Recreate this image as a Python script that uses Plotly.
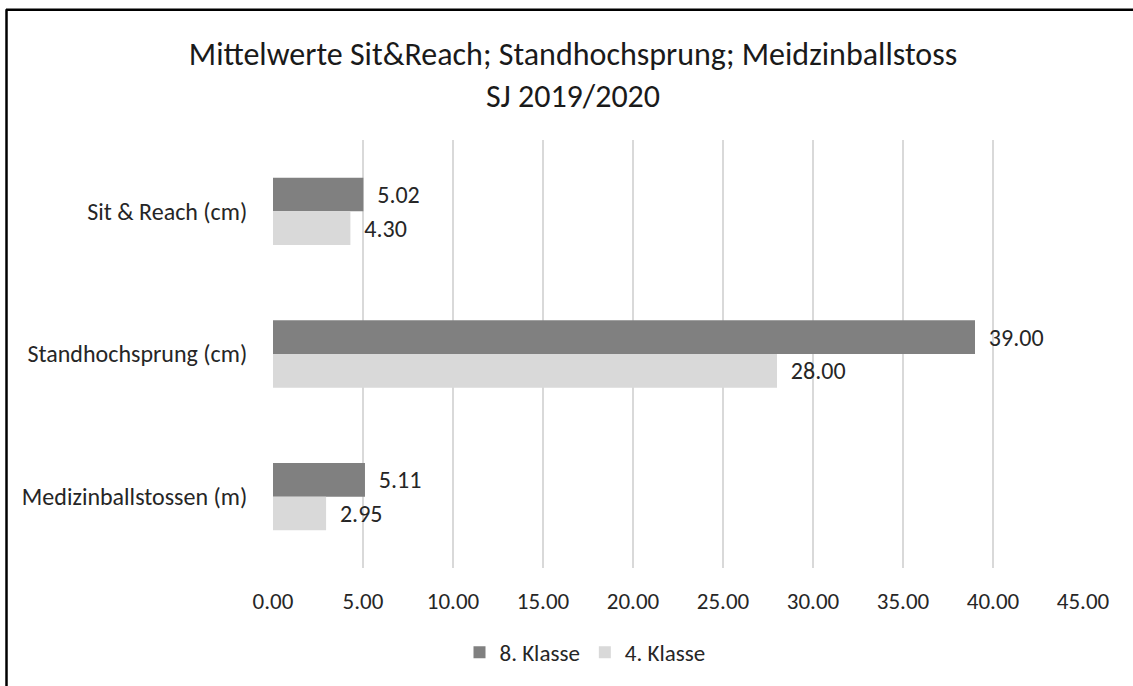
import plotly.graph_objects as go

categories = ["Sit & Reach (cm)", "Standhochsprung (cm)", "Medizinballstossen (m)"]
klasse8 = [5.02, 39.00, 5.11]
klasse4 = [4.30, 28.00, 2.95]
series_names = ["8. Klasse", "4. Klasse"]
tick_vals = [0, 5, 10, 15, 20, 25, 30, 35, 40, 45]
tick_text = ["0.00", "5.00", "10.00", "15.00", "20.00", "25.00", "30.00", "35.00", "40.00", "45.00"]

FONT = "Carlito, Calibri, Open Sans, sans-serif"
TXT = "#262626"

fig = go.Figure()
fig.add_trace(go.Bar(
    y=categories, x=klasse8, name=series_names[0], orientation="h",
    marker=dict(color="#808080", line=dict(width=0)),
    texttemplate="\u00a0\u00a0%{x:.2f}", textposition="outside",
    textfont=dict(family=FONT, size=24, color=TXT), cliponaxis=False,
))
fig.add_trace(go.Bar(
    y=categories, x=klasse4, name=series_names[1], orientation="h",
    marker=dict(color="#d9d9d9", line=dict(width=0)),
    texttemplate="\u00a0\u00a0%{x:.2f}", textposition="outside",
    textfont=dict(family=FONT, size=24, color=TXT), cliponaxis=False,
))

L, R, T, B = 273, 50, 140, 114
W, H = 1133, 686
pw, ph = W - L - R, H - T - B

def px_x(p):
    return (p - L) / pw

def px_y(p):
    return (H - B - p) / ph

fig.update_layout(
    width=W, height=H,
    margin=dict(l=L, r=R, t=T, b=B),
    paper_bgcolor="white", plot_bgcolor="white",
    barmode="group", bargap=0.528, bargroupgap=0,
    font=dict(family=FONT, color=TXT),
    title=dict(
        text="Mittelwerte Sit&Reach; Standhochsprung; Meidzinballstoss<br>SJ 2019/2020",
        x=573 / W, xanchor="center", y=1 - 65 / H, yanchor="middle",
        font=dict(family=FONT, size=32, color="#1a1a1a"),
    ),
    xaxis=dict(
        range=[0, 45], tickvals=tick_vals, ticktext=tick_text,
        showgrid=True, gridcolor="#d9d9d9", gridwidth=2, zeroline=False,
        showline=False, ticks="outside", ticklen=12, tickcolor="rgba(0,0,0,0)",
        tickfont=dict(family=FONT, size=23, color=TXT),
    ),
    yaxis=dict(
        categoryorder="array", categoryarray=categories, autorange="reversed",
        showgrid=False, zeroline=False, showline=False,
        ticks="outside", ticklen=20, tickcolor="rgba(0,0,0,0)",
        tickfont=dict(family=FONT, size=24, color=TXT),
    ),
    legend=dict(
        orientation="h", x=px_x(585), xanchor="center", y=px_y(657), yanchor="middle",
        font=dict(family=FONT, size=23, color=TXT), traceorder="normal",
        itemwidth=30,
    ),
    shapes=[
        dict(type="line", xref="paper", yref="paper", x0=px_x(6), x1=px_x(1140),
             y0=px_y(8.5), y1=px_y(8.5), line=dict(color="black", width=2.5)),
        dict(type="line", xref="paper", yref="paper", x0=px_x(6.5), x1=px_x(6.5),
             y0=px_y(8), y1=px_y(700), line=dict(color="black", width=2.5)),
    ],
)

fig.write_html("out.html")
